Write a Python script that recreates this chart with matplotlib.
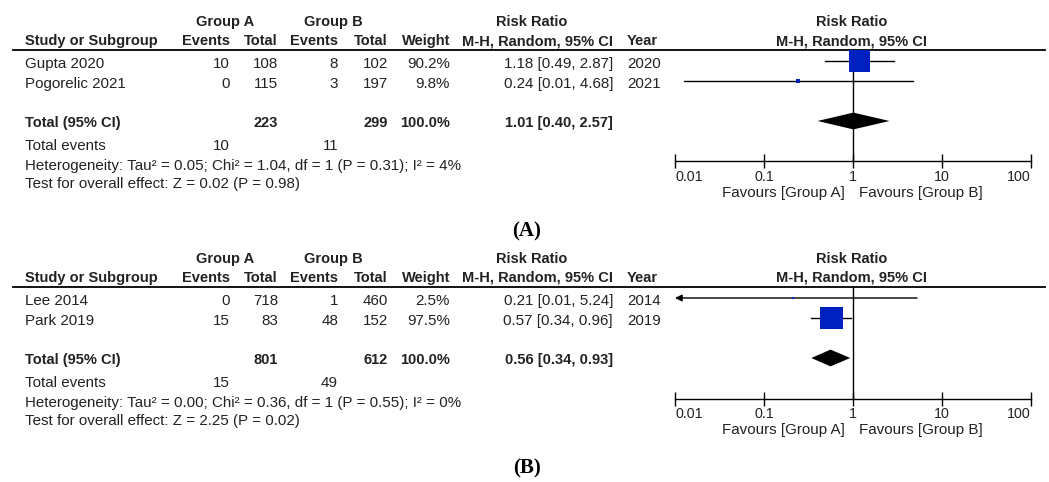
import matplotlib
matplotlib.use("Agg")
import matplotlib.pyplot as plt

plt.rcParams['font.family'] = ['Liberation Sans', 'DejaVu Sans']

# ---------------- data ----------------
# Panel A
studies_a = ["Gupta 2020", "Pogorelic 2021"]
events_grpA_a = [10, 0]
total_grpA_a = [108, 115]
events_grpB_a = [8, 3]
total_grpB_a = [102, 197]
weight_a = [90.2, 9.8]
rr_a = [1.18, 0.24]
ci_low_a = [0.49, 0.0125]
ci_high_a = [2.87, 4.68]
year_a = [2020, 2021]
pooled_a = [1.01, 0.40, 2.57]
total_n_a = [223, 299]
total_events_a = [10, 11]
het_a = "Heterogeneity: Tau\u00b2 = 0.05; Chi\u00b2 = 1.04, df = 1 (P = 0.31); I\u00b2 = 4%"
test_a = "Test for overall effect: Z = 0.02 (P = 0.98)"

# Panel B
studies_b = ["Lee 2014", "Park 2019"]
events_grpA_b = [0, 15]
total_grpA_b = [718, 83]
events_grpB_b = [1, 48]
total_grpB_b = [460, 152]
weight_b = [2.5, 97.5]
rr_b = [0.21, 0.57]
ci_low_b = [0.009, 0.34]
ci_high_b = [5.24, 0.96]
year_b = [2014, 2019]
pooled_b = [0.56, 0.34, 0.93]
total_n_b = [801, 612]
total_events_b = [15, 49]
het_b = "Heterogeneity: Tau\u00b2 = 0.00; Chi\u00b2 = 0.36, df = 1 (P = 0.55); I\u00b2 = 0%"
test_b = "Test for overall effect: Z = 2.25 (P = 0.02)"

axis_ticks = [0.01, 0.1, 1, 10, 100]
axis_tick_labels = ["0.01", "0.1", "1", "10", "100"]

# ---------------- layout ----------------
W, H = 1049, 482
fig = plt.figure(figsize=(W / 100, H / 100), dpi=100)
bg = fig.add_axes([0, 0, 1, 1])
bg.set_xlim(0, W)
bg.set_ylim(H, 0)
bg.axis('off')

TXT = '#222222'
FS = 10.9
FSB = 10.5
STUDY_X = 25
EV_A_R, TOT_A_R, EV_B_R, TOT_B_R = 230, 278, 338, 388
WEIGHT_R, CI_R, YEAR_L = 450, 613, 627
GA_C, GB_C, RR_C = 225, 333, 532
PLOT_L, PLOT_R = 675, 1031
PLOT_C = 852


def t(x, y, s, ha='left', bold=False, **kw):
    bg.text(x, y, s, ha=ha, va='baseline', fontsize=FSB if bold else FS, color=TXT,
            fontweight='bold' if bold else 'normal', **kw)


def panel(off, studies, ea, ta, eb, tb, w, rr, lo, hi, yr, pooled, tot_n, tot_ev,
          het, test, label):
    # headers
    t(GA_C, off + 26, "Group A", ha='center', bold=True)
    t(GB_C, off + 26, "Group B", ha='center', bold=True)
    t(RR_C, off + 26, "Risk Ratio", ha='center', bold=True)
    t(PLOT_C, off + 26, "Risk Ratio", ha='center', bold=True)
    t(STUDY_X, off + 45, "Study or Subgroup", bold=True)
    t(EV_A_R, off + 45, "Events", ha='right', bold=True)
    t(TOT_A_R, off + 45, "Total", ha='right', bold=True)
    t(EV_B_R, off + 45, "Events", ha='right', bold=True)
    t(TOT_B_R, off + 45, "Total", ha='right', bold=True)
    t(WEIGHT_R, off + 45, "Weight", ha='right', bold=True)
    t(CI_R, off + 45, "M-H, Random, 95% CI", ha='right', bold=True)
    t(YEAR_L, off + 45, "Year", bold=True)
    t(PLOT_C, off + 45, "M-H, Random, 95% CI", ha='center', bold=True)
    bg.plot([13, 1045], [off + 50, off + 50], color='black', lw=1.3)

    row_base = [off + 68, off + 88]
    for i, name in enumerate(studies):
        yb = row_base[i]
        t(STUDY_X, yb, name)
        t(EV_A_R, yb, f"{ea[i]}", ha='right')
        t(TOT_A_R, yb, f"{ta[i]}", ha='right')
        t(EV_B_R, yb, f"{eb[i]}", ha='right')
        t(TOT_B_R, yb, f"{tb[i]}", ha='right')
        t(WEIGHT_R, yb, f"{w[i]:.1f}%", ha='right')
        t(CI_R, yb, f"{rr[i]:.2f} [{lo[i]:.2f}, {hi[i]:.2f}]", ha='right')
        t(YEAR_L, yb, f"{yr[i]}")

    yb = off + 127
    t(STUDY_X, yb, "Total (95% CI)", bold=True)
    t(TOT_A_R, yb, f"{tot_n[0]}", ha='right', bold=True)
    t(TOT_B_R, yb, f"{tot_n[1]}", ha='right', bold=True)
    t(WEIGHT_R, yb, f"{sum(w):.1f}%", ha='right', bold=True)
    t(CI_R, yb, f"{pooled[0]:.2f} [{pooled[1]:.2f}, {pooled[2]:.2f}]", ha='right', bold=True)

    yb = off + 150
    t(STUDY_X, yb, "Total events")
    t(EV_A_R, yb, f"{tot_ev[0]}", ha='right')
    t(EV_B_R, yb, f"{tot_ev[1]}", ha='right')
    t(STUDY_X, off + 170, het)
    t(STUDY_X, off + 188, test)

    t(PLOT_C - 7, off + 197, "Favours [Group A]", ha='right')
    t(PLOT_C + 7, off + 197, "Favours [Group B]", ha='left')

    bg.text(527, off + 231, label, ha='center', va='center', fontsize=15,
            fontweight='bold', family='Liberation Serif', color='black')

    # forest plot axes
    top, bottom = off + 50, off + 161.5
    ax = fig.add_axes([PLOT_L / W, 1 - bottom / H, (PLOT_R - PLOT_L) / W, (bottom - top) / H])
    ax.set_facecolor('none')
    ax.set_xscale('log')
    ax.set_xlim(axis_ticks[0], axis_ticks[-1])
    ax.set_ylim((bottom - top) / 20 - 0.55, -0.55)
    for s in ['top', 'left', 'right']:
        ax.spines[s].set_visible(False)
    ax.spines['bottom'].set_linewidth(1.0)
    ax.set_yticks([])
    ax.set_xticks(axis_ticks)
    ax.set_xticklabels(axis_tick_labels)
    ax.minorticks_off()
    ax.tick_params(axis='x', direction='inout', length=10, width=1.0, pad=1,
                   labelsize=10.3, labelcolor=TXT)
    labs = ax.get_xticklabels()
    labs[0].set_horizontalalignment('left')
    labs[-1].set_horizontalalignment('right')
    ax.axvline(1, color='black', lw=1.0)

    xmin, xmax = axis_ticks[0], axis_ticks[-1]
    rows = [0, 1]
    for i in range(len(studies)):
        y = rows[i]
        l, h = lo[i], hi[i]
        if l < xmin:
            ax.annotate('', xy=(xmin, y), xytext=(min(h, xmax), y),
                        arrowprops=dict(arrowstyle='-|>', color='black', lw=1.0,
                                        mutation_scale=10, shrinkA=0, shrinkB=0))
        else:
            ax.plot([l, min(h, xmax)], [y, y], color='black', lw=1.0)
        side_px = 23 * (w[i] / 100) ** 0.7
        ax.scatter([rr[i]], [y], marker='s', s=(max(side_px, 2) * 0.72) ** 2,
                   color='#0020c0', edgecolors='none', zorder=3)

    yd = 3
    hh = 0.42
    ax.fill([pooled[1], pooled[0], pooled[2], pooled[0]],
            [yd, yd - hh, yd, yd + hh], color='black', lw=0, zorder=3)
    return ax


panel(0, studies_a, events_grpA_a, total_grpA_a, events_grpB_a, total_grpB_a,
      weight_a, rr_a, ci_low_a, ci_high_a, year_a, pooled_a, total_n_a,
      total_events_a, het_a, test_a, "(A)")
panel(237, studies_b, events_grpA_b, total_grpA_b, events_grpB_b, total_grpB_b,
      weight_b, rr_b, ci_low_b, ci_high_b, year_b, pooled_b, total_n_b,
      total_events_b, het_b, test_b, "(B)")

fig.savefig("out.png", dpi=100)
